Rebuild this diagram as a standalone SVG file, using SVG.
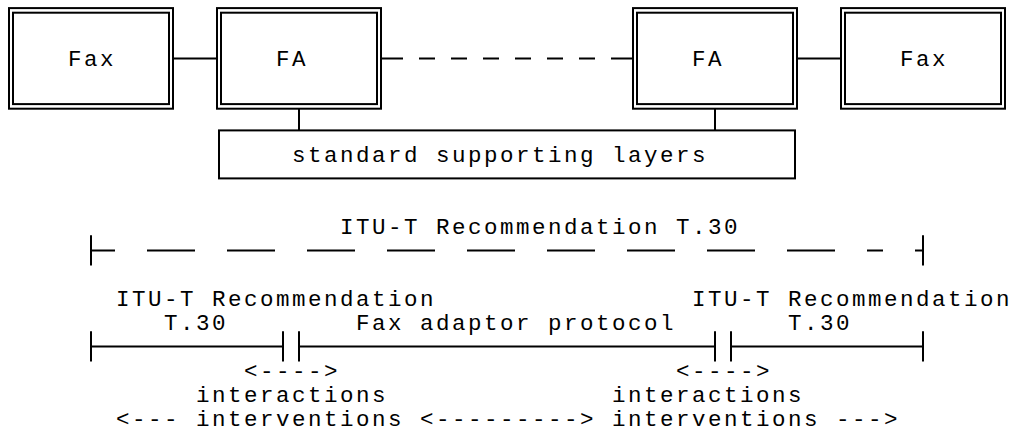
<svg xmlns="http://www.w3.org/2000/svg" width="1014" height="431" viewBox="0 0 1014 431">
<style>
  text { font-family: "Liberation Mono", "Courier New", monospace; font-size: 22.5px; letter-spacing: 2.5px; fill: #000; white-space: pre; }
  .ln { fill: none; stroke: #000; stroke-width: 2; }
</style>
<rect x="0" y="0" width="1014" height="431" fill="#fff"/>

<g id="fax-left">
  <rect class="ln" x="9" y="8.1" width="164" height="100.6"/>
  <rect class="ln" x="13" y="12.7" width="156" height="91.4"/>
  <text x="68" y="65.5">Fax</text>
</g>
<g id="fa-left">
  <rect class="ln" x="217" y="8.1" width="164" height="100.6"/>
  <rect class="ln" x="221" y="12.7" width="156" height="91.4"/>
  <text x="276" y="65.5">FA</text>
</g>
<g id="fa-right">
  <rect class="ln" x="633" y="8.1" width="164" height="100.6"/>
  <rect class="ln" x="637" y="12.7" width="156" height="91.4"/>
  <text x="692" y="65.5">FA</text>
</g>
<g id="fax-right">
  <rect class="ln" x="841" y="8.1" width="164" height="100.6"/>
  <rect class="ln" x="845" y="12.7" width="156" height="91.4"/>
  <text x="900" y="65.5">Fax</text>
</g>
<g id="layers">
  <rect class="ln" x="219" y="130.4" width="576" height="48"/>
  <text x="292" y="161.5">standard supporting layers</text>
</g>

<g id="connectors">
  <path class="ln" d="M173 58.4 H217"/>
  <path class="ln" d="M381 58.4 H403 M419 58.4 H435 M451 58.4 H467 M483 58.4 H499 M515 58.4 H531 M547 58.4 H563 M579 58.4 H595 M611 58.4 H633"/>
  <path class="ln" d="M797 58.4 H841"/>
  <path class="ln" d="M299 108.7 V130.4"/>
  <path class="ln" d="M715 108.7 V130.4"/>
</g>

<g id="t30-span">
  <text x="340" y="233.5">ITU-T Recommendation T.30</text>
  <path class="ln" d="M91 235.3 V265.5 M91 250.4 H115 M147 250.4 H195 M227 250.4 H275 M307 250.4 H355 M387 250.4 H435 M467 250.4 H515 M547 250.4 H595 M627 250.4 H675 M707 250.4 H755 M787 250.4 H835 M867 250.4 H883 M915 250.4 H923 M923 235.3 V265.5"/>
</g>

<g id="protocol-spans">
  <text x="116" y="305.5">ITU-T Recommendation</text>
  <text x="692" y="305.5">ITU-T Recommendation</text>
  <text x="164" y="329.5">T.30</text>
  <text x="356" y="329.5">Fax adaptor protocol</text>
  <text x="788" y="329.5">T.30</text>
  <path class="ln" d="M91 331.3 V361.5 M91 346.4 H283 M283 331.3 V361.5 M299 331.3 V361.5 M299 346.4 H715 M715 331.3 V361.5 M731 331.3 V361.5 M731 346.4 H923 M923 331.3 V361.5"/>
  <text x="244" y="377.5">&lt;----&gt;</text>
  <text x="676" y="377.5">&lt;----&gt;</text>
  <text x="196" y="401.5">interactions</text>
  <text x="612" y="401.5">interactions</text>
  <text x="116" y="425.5">&lt;--- interventions &lt;---------&gt; interventions ---&gt;</text>
</g>
</svg>
